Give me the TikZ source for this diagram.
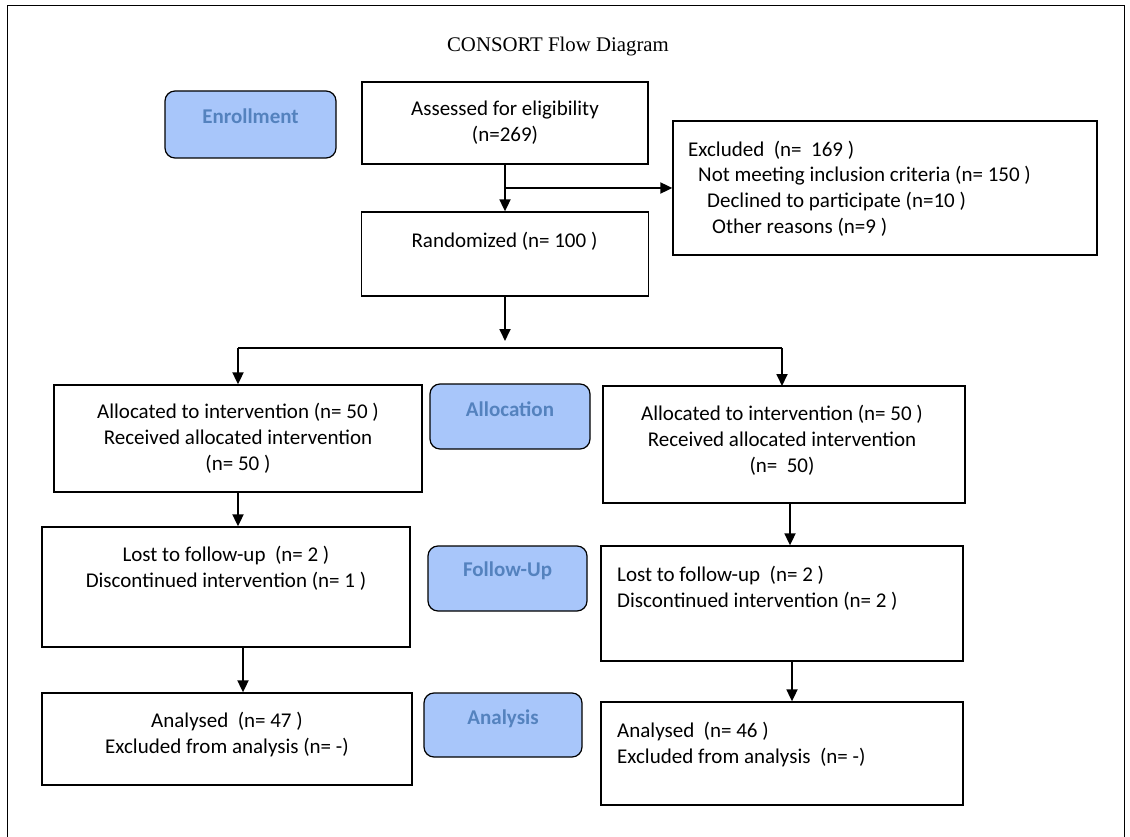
\documentclass[tikz,border=0pt]{standalone}
\usepackage{fontspec}
\setmainfont{Carlito}
\newfontfamily\titlefont{Liberation Serif}
\usetikzlibrary{arrows.meta,calc}
\definecolor{stagefill}{RGB}{168,198,250}
\definecolor{stagetext}{RGB}{84,130,190}

\tikzset{
	box/.style={draw=black, line width=1.3pt, fill=white},
	stage/.style={draw=black, line width=1.2pt, fill=stagefill, rounded corners=10pt},
	stagetxt/.style={font=\fontsize{21}{24}\selectfont\bfseries, text=stagetext},
	txt/.style={font=\fontsize{21}{26}\selectfont, align=center, inner sep=0pt},
	ltxt/.style={font=\fontsize{21}{25.7}\selectfont, align=left, anchor=west, inner sep=0pt},
	flow/.style={line width=1.8pt, -{Triangle[length=12pt,width=11pt]}},
	bar/.style={line width=1.8pt}
}

\begin{document}
\begin{tikzpicture}[x=1pt, y=-1pt]
			%%%%% START %%%%%
			
			\useasboundingbox (0,0) rectangle (1130,837);
			\draw[line width=1pt] (7,6) rectangle (1124,845);
			
			\node[font=\titlefont\fontsize{20.8}{24}\selectfont] (title) at (558,47) {CONSORT Flow Diagram};
			
			% stage labels
			\node[stage, minimum width=171, minimum height=67] (enrol) at (250.5,124.5) {};
			\node[stagetxt] (enroltxt) at (250.5,116) {Enrollment};
			\node[stage, minimum width=160, minimum height=65] (alloc) at (510,416.5) {};
			\node[stagetxt] (alloctxt) at (510,409) {Allocation};
			\node[stage, minimum width=159, minimum height=65] (follow) at (507.5,578.5) {};
			\node[stagetxt] (followtxt) at (507.5,571) {Follow-Up};
			\node[stage, minimum width=158, minimum height=64] (analysis) at (503,725) {};
			\node[stagetxt] (analysistxt) at (503,719) {Analysis};
			
			% enrolment
			\node[box, minimum width=286, minimum height=82] (assess) at (505,123) {};
			\node[txt] (assesstxt) at (505,123) {Assessed for eligibility\\(n=269)};
			
			\node[box, minimum width=424, minimum height=134] (excl) at (885,188) {};
			\node[ltxt] (excltxt) at (688,188.5) {Excluded\ \ (n=\ \ 169 )\\
				\hspace*{10pt}Not meeting inclusion criteria (n= 150 )\\
				\hspace*{19pt}Declined to participate (n=10 )\\
				\hspace*{24pt}Other reasons (n=9 )};
			
			\node[box, minimum width=287, minimum height=84] (rand) at (505,254) {};
			\node[txt] (randtxt) at (504.5,241) {Randomized (n= 100 )};
			
			% allocation
			\node[box, minimum width=368, minimum height=107] (allocL) at (238,438.5) {};
			\node[txt] (allocLtxt) at (238,438.5) {Allocated to intervention (n= 50 )\\Received allocated intervention\\(n= 50 )};
			\node[box, minimum width=362, minimum height=117] (allocR) at (784,444.5) {};
			\node[txt] (allocRtxt) at (782,440) {Allocated to intervention (n= 50 )\\Received allocated intervention\\(n=\ \ 50)};
			
			% follow-up
			\node[box, minimum width=368, minimum height=120] (lostL) at (226,587) {};
			\node[txt] (lostLtxt) at (226,568) {Lost to follow-up\ \ (n= 2 )\\Discontinued intervention (n= 1 )};
			\node[box, minimum width=362, minimum height=115] (lostR) at (782,603.5) {};
			\node[ltxt] (lostRtxt) at (617,588) {Lost to follow-up\ \ (n= 2 )\\Discontinued intervention (n= 2 )};
			
			% analysis
			\node[box, minimum width=370, minimum height=92] (anaL) at (227,739) {};
			\node[txt] (anaLtxt) at (227,735) {Analysed\ \ (n= 47 )\\Excluded from analysis (n= -)};
			\node[box, minimum width=362, minimum height=103] (anaR) at (782,753.5) {};
			\node[ltxt] (anaRtxt) at (617,744.5) {Analysed\ \ (n= 46 )\\Excluded from analysis\ \ (n= -)};
			
			% connectors
			\coordinate (top) at (rand.north |- assess.south);
			\coordinate (branch) at (rand.north |- excl.west);
			\draw[flow] (top) -- (rand.north);
			\draw[flow] (branch) -- (excl.west);
			
			\coordinate (split) at (505,348);
			\coordinate (splitend) at (505,341);
			\draw[flow] (rand.south) -- (splitend);
			\draw[bar] (allocL.north |- split) -- (split) -- (782,348);
			\draw[flow] (allocL.north |- split) -- (allocL.north);
			\draw[flow] (782,348) -- (782,386);
			
			\draw[flow] (allocL.south) -- (allocL.south |- lostL.north);
			\draw[flow] ([xshift=6]allocR.south) -- ([xshift=6]allocR.south |- lostR.north);
			\draw[flow] ([xshift=17]lostL.south) -- ([xshift=17]lostL.south |- anaL.north);
			\draw[flow] ([xshift=10]lostR.south) -- ([xshift=10]lostR.south |- anaR.north);
			
			%%%%% END %%%%%
\end{tikzpicture}
\end{document}
